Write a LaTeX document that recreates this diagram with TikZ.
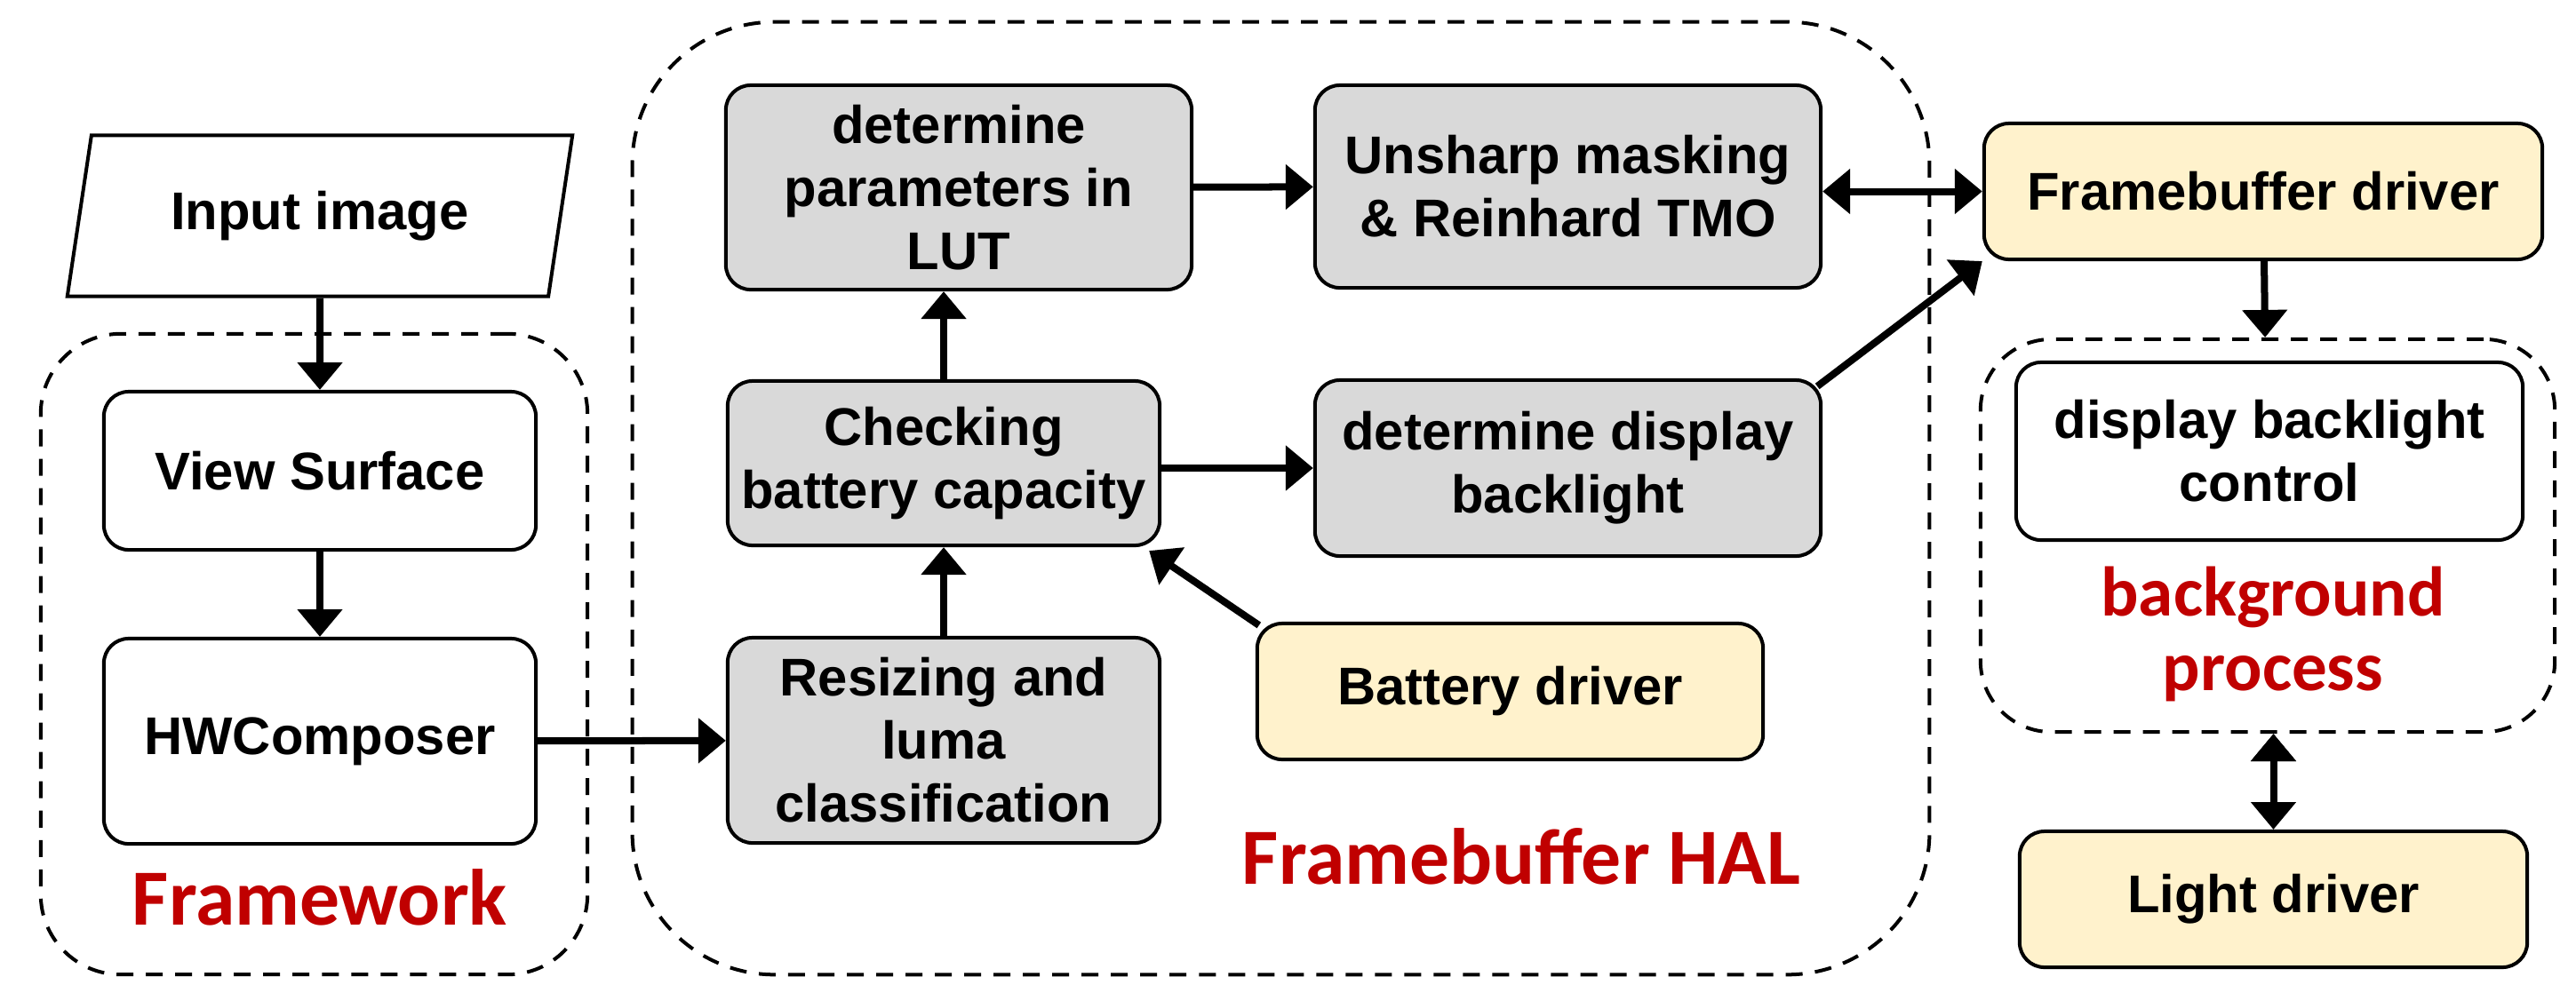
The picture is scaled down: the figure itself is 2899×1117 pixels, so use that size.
\documentclass[tikz,border=0pt]{standalone}
\usepackage{fontspec}
\setmainfont{Liberation Sans}
\newfontfamily\redfont{Carlito}
\usetikzlibrary{arrows.meta,shapes.geometric,positioning}
\definecolor{boxgray}{HTML}{D9D9D9}
\definecolor{drvyellow}{HTML}{FFF2CC}
\definecolor{labelred}{HTML}{C00000}

\begin{document}
\begin{tikzpicture}[x=0.01cm,y=-0.01cm]

        % Setup the styles for the blocks
        \tikzset{block/.style={draw,
                               rounded corners=0.28cm,
                               line width=0.04cm,
                               align=center,
                               inner sep=0pt,
                               font=\bfseries\fontsize{17}{20.2}\selectfont},
                 hal block/.style={block, fill=boxgray},
                 driver/.style={block, fill=drvyellow},
                 group/.style={draw, dash pattern=on 0.19cm off 0.14cm, line width=0.04cm},
                 group label/.style={text=labelred, align=center,
                                     font=\redfont\bfseries\fontsize{25.5}{27}\selectfont},
                 flow/.style={line width=0.08cm, ->,
                              >={Triangle[length=8.8pt,width=14pt]}}}
        \useasboundingbox (0,0) rectangle (2899,1117);

        % Draw the dashed groups
        \node[group, rounded corners=0.9cm, minimum width=6.15cm, minimum height=7.21cm] at (353.5,736.5) (fw) {};
        \node[group, rounded corners=1.6cm, minimum width=14.59cm, minimum height=10.72cm] at (1441.5,561) (hal) {};
        \node[group, rounded corners=0.8cm, minimum width=6.46cm, minimum height=4.42cm] at (2552,603) (bg) {};

        % Draw the blocks
        \node[draw, trapezium, trapezium left angle=76.6, trapezium right angle=103.4,
              trapezium stretches, minimum width=5.69cm, minimum height=1.81cm,
              line width=0.04cm, font=\bfseries\fontsize{17}{20.2}\selectfont] at (360,243) (input) {Input image};
        \node[block, minimum width=4.86cm, minimum height=1.78cm] at (360,530) (vs) {View Surface};
        \node[block, minimum width=4.86cm, minimum height=2.31cm] at (360,834.5) (hwc) {HWComposer};
        \node[hal block, minimum width=5.24cm, minimum height=2.30cm] at (1079,211) (lut) {determine\\parameters in\\LUT};
        \node[hal block, minimum width=4.86cm, minimum height=1.85cm] at (1062,521.5) (chk) {Checking\\battery capacity};
        \node[hal block, minimum width=4.86cm, minimum height=2.31cm] at (1062,833.5) (rsz) {Resizing and\\luma\\classification};
        \node[hal block, minimum width=5.69cm, minimum height=2.28cm] at (1764.5,210) (ush) {Unsharp masking\\\& Reinhard TMO};
        \node[hal block, minimum width=5.69cm, minimum height=1.98cm] at (1764.5,527) (dbl) {determine display\\backlight};
        \node[driver, minimum width=5.69cm, minimum height=1.53cm] at (1699.5,778.5) (bat) {Battery driver};
        \node[driver, minimum width=6.28cm, minimum height=1.53cm] at (2547,215.5) (fbd) {Framebuffer driver};
        \node[block, minimum width=5.70cm, minimum height=2.00cm] at (2554,508) (dbc) {display backlight\\control};
        \node[driver, minimum width=5.71cm, minimum height=1.53cm] at (2558.5,1012.5) (lgt) {Light driver};

        % Group labels
        \node[group label, anchor=base] at (360,1041) (fwlabel) {Framework};
        \node[group label, anchor=base] at (1712,995) (hallabel) {Framebuffer HAL};
        \node[group label, font=\redfont\bfseries\fontsize{22.5}{23.9}\selectfont] at (2558,714) (bglabel) {background\\process};

        % Connect the blocks with arrows
        \draw[flow]
            (input) edge (vs)
            (vs) edge (hwc)
            (hwc) edge (rsz)
            (rsz) edge (chk)
            (chk.north) edge (chk.north |- lut.south)
            (lut) edge (ush)
            (chk.east |- dbl.west) edge (dbl)
            ([shift={(-6,9)}]dbl.north east) edge (fbd.south west)
            ([shift={(4,4)}]bat.north west) edge ([shift={(-14,4)}]chk.south east)
            (fbd) edge (bg)
            (ush.east |- fbd.west) edge[<->] (fbd.west)
            (lgt.north |- bg.south) edge[<->] (lgt);
    \end{tikzpicture}
\end{document}
